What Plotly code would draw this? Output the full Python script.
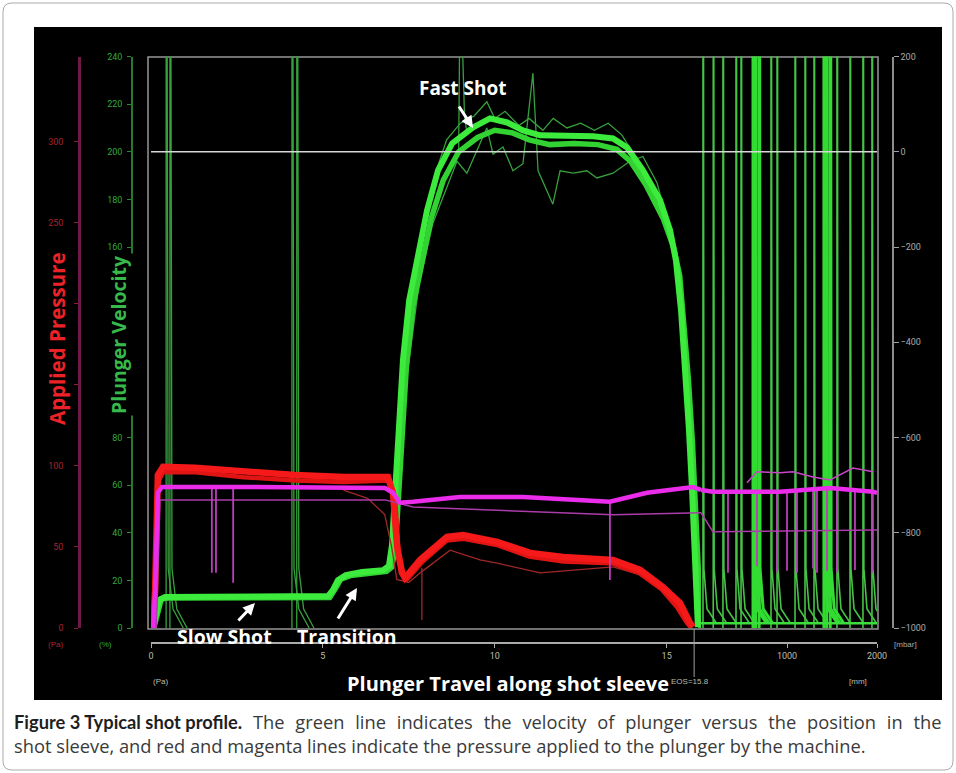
import plotly.graph_objects as go

W, H = 956, 773

# ------------------------------------------------------------------ data
# Plunger travel [mm] (left segment) -- velocity shots (velocity scale 0..240)
shotA_mm = [0.06, 0.15, 0.23, 0.41, 2.88, 5.15, 5.29, 5.44, 5.67, 6.14, 6.75, 6.92, 7.01, 7.07, 7.21,
            7.33, 7.51, 7.74, 8.03, 8.35, 8.76, 9.37, 9.86, 10.36, 10.82, 11.32, 12.10, 12.86, 13.44,
            13.85, 14.31, 14.81, 15.10, 15.27, 15.42, 15.53, 15.65, 15.74, 15.83, 15.91]
shotA_vel = [0, 6.7, 11.7, 13.0, 13.0, 13.4, 15.9, 20.1, 22.2, 23.5, 24.3, 26.0, 34.8, 49.5, 83.1,
             112.5, 137.6, 154.4, 175.4, 192.2, 203.5, 210.2, 214.0, 212.3, 209.0, 206.9, 206.9, 206.5,
             205.6, 201.8, 192.2, 179.6, 167.0, 154.4, 133.4, 112.5, 83.1, 57.9, 28.5, 0.4]

shotB_mm = [0.08, 0.2, 0.3, 0.5, 3.0, 5.2, 5.36, 5.52, 5.8, 6.3, 6.85, 7.0, 7.1, 7.17, 7.3, 7.43, 7.62,
            7.86, 8.15, 8.5, 8.95, 9.5, 10.0, 10.5, 11.0, 11.6, 12.3, 13.0, 13.55, 13.95, 14.4, 14.9,
            15.2, 15.38, 15.52, 15.63, 15.75, 15.85, 15.93, 16.0]
shotB_vel = [0, 7.5, 12.2, 12.6, 12.4, 12.8, 16.5, 20.5, 22.0, 23.0, 23.8, 25.5, 33.0, 48.0, 82.0, 110.0,
             135.0, 152.0, 172.0, 188.0, 200.0, 206.0, 209.0, 208.0, 205.0, 203.0, 203.5, 203.0, 201.0,
             196.0, 186.0, 172.0, 160.0, 148.0, 126.0, 105.0, 78.0, 52.0, 22.0, 0]

shotC_mm = [7.4, 7.8, 8.2, 8.61, 8.90, 9.19, 9.57, 9.77, 9.95, 10.24, 10.53, 10.82, 11.11, 11.26, 11.69,
            11.90, 12.28, 12.68, 12.97, 13.44, 13.93, 14.31, 14.72, 15.0, 15.3, 15.55, 15.8, 15.95]
shotC_vel = [100, 145, 170, 185, 196, 191, 203, 210, 199, 202, 192, 195, 233, 192, 178, 192, 191, 192,
             189, 191, 196, 198, 187, 172, 150, 100, 35, 0]

shotD_mm = [8.3, 8.6, 9.0, 9.4, 9.77, 10.0, 10.3, 10.7, 11.0, 11.4, 11.7, 12.1, 12.5, 12.9, 13.3, 13.7, 14.0]
shotD_vel = [192, 205, 212, 215, 221, 214, 217, 211, 214, 209, 214, 210, 212, 209, 212, 207, 200]

peak_spike_mm = [8.95, 8.98, 9.05, 9.12, 9.2]
peak_spike_vel = [200, 250, 250, 215, 207]

# velocity spikes in the travel segment [mm] and their tail profile
vel_spike_mm = [0.44, 0.55, 4.10, 4.24]
vel_tail_dmm = [0, 0, 0.03, 0.06, 0.2, 0.5]
vel_tail_vel = [0, 250, 250, 25, 8, 0]

# after end of stroke: time segment [ms]
bright_spike_ms = [622, 650, 690, 1410, 1440, 1480]
thin_spike_ms = [66, 180, 288, 433, 489, 822, 889, 1089, 1200, 1300, 1555, 1700, 1844, 1944]
ms_tail_dt = [0, 0, 6, 10, 45, 150]
ms_tail_vel = [0, 250, 250, 25, 8, 2]
baseline_ms = [44, 2000]
baseline_vel = [2, 2]

# Applied pressure (red, pressure scale)
red_main_mm = [0.06, 0.12, 0.20, 0.35, 1.28, 2.73, 4.19, 5.64, 6.89, 7.04, 7.16, 7.30, 7.39, 7.83, 8.61,
               9.08, 10.07, 11.03, 11.99, 13.44, 14.23, 14.89, 15.39, 15.68, 15.77]
red_main_p = [0, 23.5, 94.4, 99.4, 98.8, 96.3, 94.4, 93.2, 93.2, 83.3, 50.0, 34.0, 30.9, 42.0, 56.2,
              57.4, 53.1, 46.3, 43.8, 42.0, 35.8, 25.3, 15.4, 3.1, 0.6]
red_b_mm = [0.1, 0.2, 0.35, 1.3, 2.7, 4.2, 5.6, 6.9, 7.1, 7.2, 7.35, 7.45, 7.9, 8.6, 9.1, 10.1, 11.0,
            12.0, 13.4, 14.2, 14.85, 15.3, 15.6, 15.72]
red_b_p = [15, 90, 96, 96, 93, 91, 90, 91, 80, 47, 32, 30, 41, 54, 55, 51, 44, 41, 40, 34, 24, 13, 3, 0]
red_thin_mm = [5.6, 6.3, 6.8, 7.0, 7.15, 7.5, 7.83, 8.70, 9.57, 10.07, 11.32, 12.48, 13.44, 14.43, 15.19, 15.68]
red_thin_p = [85, 80, 70, 50, 30, 28, 34, 48, 42, 40, 34, 36, 37.7, 31.5, 17, 3]
red_spike_mm = [7.88, 7.88]
red_spike_p = [37, 5]

# magenta pressure trace (right axis, mbar)
mag_main_mm = [0.06, 0.12, 0.20, 0.32, 2.88, 6.81, 7.04, 7.24, 7.62, 8.99, 10.82, 12.48, 13.35, 14.43,
               15.39, 15.77, 16.0]
mag_main_mbar = [-1000, -920, -716, -704, -704, -706, -716, -737, -735, -725, -725, -731, -735, -716,
                 -706, -704, -710]
mag_main_ms = [44, 177, 922, 1478, 1956, 2000]
mag_main_ms_mbar = [-710, -714, -714, -706, -714, -716]
mag_low_mm = [0.15, 0.26, 6.81, 7.62, 13.44, 16.0]
mag_low_mbar = [-1000, -731, -731, -746, -762, -758]
mag_low_ms = [44, 177, 2000]
mag_low_ms_mbar = [-758, -798, -794]
mag_up_ms = [555, 666, 922, 1066, 1289, 1478, 1733, 1956]
mag_up_mbar = [-695, -672, -674, -672, -683, -689, -664, -672]
mag_spike_mm = [1.77, 1.89, 2.39, 13.35]
mag_spike_mm_top = [-704, -704, -704, -735]
mag_spike_mm_bot = [-884, -884, -905, -899]
mag_spike_ms = [344, 666, 889, 1000, 1111, 1289, 1333, 1444, 1555, 1755, 1944]
mag_spike_ms_top = [-714, -714, -714, -714, -714, -712, -712, -710, -708, -710, -714]
mag_spike_ms_bot = [-884, -870, -884, -880, -884, -875, -884, -880, -884, -878, -884]

zero_mm = [0, 16]
zero_ms = [44, 2000]
zero_mbar = [0, 0]

# tick labels
vel_ticks = [0, 20, 40, 60, 80, 100, 120, 140, 160, 180, 200, 220, 240]
p_ticks = [0, 50, 100, 150, 200, 250, 300]
mbar_ticks = [-1000, -800, -600, -400, -200, 0, 200]
mm_ticks = [0, 5, 10, 15]
ms_ticks = [1000, 2000]

# caption
caption_bold = "Figure 3 Typical shot profile."
caption_line1 = "The green line indicates the velocity of plunger versus the position in the"
caption_line2 = ("shot sleeve, and red and magenta lines indicate the pressure applied to the "
                 "plunger by the machine.")

# ------------------------------------------------------------------ figure
def X(p):
    return p / W


def Y(p):
    return 1 - p / H


GREEN = "rgb(60,235,60)"
GREEN_D = "rgb(55,160,60)"
RED = "rgb(245,25,25)"
MAG = "rgb(235,45,235)"

fig = go.Figure()


def add(x, y, xa, ya, color, width, opacity=1.0):
    fig.add_trace(go.Scatter(x=x, y=y, xaxis=xa, yaxis=ya, mode="lines",
                             line=dict(color=color, width=width), opacity=opacity,
                             hoverinfo="skip", showlegend=False))


# thin velocity spikes
for s in vel_spike_mm:
    add([s + d for d in vel_tail_dmm], vel_tail_vel, "x", "y", GREEN_D, 1.3)
for s in thin_spike_ms:
    add([s + d for d in ms_tail_dt], ms_tail_vel, "x2", "y", "rgb(70,195,70)", 1.6)
for s in bright_spike_ms:
    add([s + d for d in ms_tail_dt], ms_tail_vel, "x2", "y", "rgb(50,220,50)", 3)
add(baseline_ms, baseline_vel, "x2", "y", "rgb(60,220,60)", 2.5)

# white 0 mbar reference
add(zero_mm, zero_mbar, "x", "y3", "rgb(215,215,215)", 1.5)
add(zero_ms, zero_mbar, "x2", "y3", "rgb(215,215,215)", 1.5)

# magenta
add(mag_low_mm, mag_low_mbar, "x", "y3", "rgb(170,60,170)", 1.5)
add(mag_low_ms, mag_low_ms_mbar, "x2", "y3", "rgb(170,60,170)", 1.5)
sx, sy = [], []
for s, t, b in zip(mag_spike_mm, mag_spike_mm_top, mag_spike_mm_bot):
    sx += [s, s, None]
    sy += [t, b, None]
add(sx, sy, "x", "y3", "rgb(190,60,190)", 1.8)
sx, sy = [], []
for s, t, b in zip(mag_spike_ms, mag_spike_ms_top, mag_spike_ms_bot):
    sx += [s, s, None]
    sy += [t, b, None]
add(sx, sy, "x2", "y3", "rgb(190,60,190)", 1.8)
add(mag_up_ms, mag_up_mbar, "x2", "y3", "rgb(200,70,200)", 1.5)
add(mag_main_mm, mag_main_mbar, "x", "y3", MAG, 4.5)
add(mag_main_ms, mag_main_ms_mbar, "x2", "y3", MAG, 4.5)

# red
add(red_thin_mm, red_thin_p, "x", "y2", "rgb(160,40,40)", 1.3)
add(red_spike_mm, red_spike_p, "x", "y2", "rgb(160,40,40)", 1.3)
add(red_b_mm, red_b_p, "x", "y2", "rgb(225,20,20)", 4.5)
add(red_main_mm, red_main_p, "x", "y2", RED, 6.5)

# green velocity
add(shotC_mm, shotC_vel, "x", "y", GREEN_D, 1.3)
add(shotD_mm, shotD_vel, "x", "y", GREEN_D, 1.3)
add(peak_spike_mm, peak_spike_vel, "x", "y", GREEN_D, 1.3)
add(shotB_mm, shotB_vel, "x", "y", "rgb(50,210,50)", 5.5)
add(shotA_mm, shotA_vel, "x", "y", GREEN, 6)

dom_y = [Y(628), Y(56.5)]
tickfont = dict(family="Liberation Sans Narrow, Roboto, Arial, sans-serif", size=9)

fig.update_layout(
    width=W, height=H, autosize=False,
    margin=dict(l=0, r=0, t=0, b=0, pad=0),
    paper_bgcolor="white", plot_bgcolor="rgba(0,0,0,0)",
    template="none", showlegend=False,
    xaxis=dict(domain=[X(151), X(701)], range=[0, 16], anchor="free", position=Y(643),
               showgrid=False, zeroline=False, showline=True, linecolor="rgb(170,170,170)", linewidth=2,
               tickvals=mm_ticks, ticks="outside", ticklen=4, tickcolor="rgb(170,170,170)",
               tickfont=dict(tickfont, color="rgb(190,190,170)")),
    xaxis2=dict(domain=[X(701), X(877)], range=[44, 2000], anchor="free", position=Y(643),
                showgrid=False, zeroline=False, showline=True, linecolor="rgb(170,170,170)", linewidth=2,
                tickvals=ms_ticks, ticktext=[str(v) for v in ms_ticks], ticks="outside", ticklen=4,
                tickcolor="rgb(170,170,170)", tickfont=dict(tickfont, color="rgb(190,190,170)")),
    yaxis=dict(domain=dom_y, range=[0, 240], anchor="free", position=X(132), side="left",
               showgrid=False, zeroline=False, showline=True, linecolor="rgb(40,120,50)", linewidth=1.5,
               tickvals=vel_ticks, ticks="outside", ticklen=4, tickcolor="rgb(40,140,50)",
               ticklabelstandoff=3, tickfont=dict(tickfont, color="rgb(50,170,60)")),
    yaxis2=dict(domain=dom_y, range=[0, 352.5], anchor="free", position=X(79), side="left",
                overlaying="y", showgrid=False, zeroline=False, showline=True,
                linecolor="rgb(110,25,70)", linewidth=2.5, tickvals=p_ticks, ticks="outside", ticklen=4,
                tickcolor="rgb(140,30,60)", ticklabelstandoff=9,
                tickfont=dict(tickfont, color="rgb(170,35,45)")),
    yaxis3=dict(domain=dom_y, range=[-1000, 200], anchor="free", position=X(893), side="right",
                overlaying="y", showgrid=False, zeroline=False, showline=True,
                linecolor="rgb(140,140,140)", linewidth=1.5, tickvals=mbar_ticks, ticks="outside",
                ticklen=5, tickcolor="rgb(160,160,160)", tickfont=dict(tickfont, color="rgb(170,170,170)")),
)

r = 9
fx0, fy0, fx1, fy1 = 3, 3, 953, 770
frame_path = (f"M {X(fx0 + r)},{Y(fy0)} L {X(fx1 - r)},{Y(fy0)} Q {X(fx1)},{Y(fy0)} {X(fx1)},{Y(fy0 + r)} "
              f"L {X(fx1)},{Y(fy1 - r)} Q {X(fx1)},{Y(fy1)} {X(fx1 - r)},{Y(fy1)} "
              f"L {X(fx0 + r)},{Y(fy1)} Q {X(fx0)},{Y(fy1)} {X(fx0)},{Y(fy1 - r)} "
              f"L {X(fx0)},{Y(fy0 + r)} Q {X(fx0)},{Y(fy0)} {X(fx0 + r)},{Y(fy0)} Z")

fig.update_layout(shapes=[
    dict(type="path", path=frame_path, xref="paper", yref="paper",
         line=dict(color="rgb(170,170,170)", width=1), layer="below"),
    dict(type="rect", xref="paper", yref="paper", x0=X(34), x1=X(942), y0=Y(700), y1=Y(27),
         fillcolor="black", line=dict(width=0), layer="below"),
    dict(type="rect", xref="paper", yref="paper", x0=X(148), x1=X(878), y0=Y(629), y1=Y(57),
         line=dict(color="rgb(150,150,150)", width=1.5), layer="below"),
    dict(type="line", xref="x", yref="paper", x0=15.8, x1=15.8, y0=Y(629), y1=Y(677),
         line=dict(color="rgb(160,160,150)", width=1)),
])

ann = []


def text(s, x, y, size, color="white", angle=0, bg=None, family="Open Sans, sans-serif", xanchor="center"):
    d = dict(text=s, x=X(x), y=Y(y), xref="paper", yref="paper", showarrow=False,
             font=dict(family=family, size=size, color=color), textangle=angle,
             xanchor=xanchor, yanchor="middle")
    if bg:
        d["bgcolor"] = bg
    ann.append(d)


def arrow(tx, ty, hx, hy):
    ann.append(dict(text="", x=X(hx), y=Y(hy), xref="paper", yref="paper", showarrow=True,
                    ax=tx - hx, ay=ty - hy, arrowhead=2, arrowsize=0.8, arrowwidth=3,
                    arrowcolor="white", standoff=0, startstandoff=0))


text("<b>Fast Shot</b>", 463, 88, 19)
arrow(458, 105, 473, 128)
text("<b>Slow Shot</b>", 224, 636, 19.5)
arrow(237, 622, 255, 603)
text("<b>Transition</b>", 347, 636, 19.5)
arrow(337, 620, 357, 588)
text("<b>Plunger Travel along shot sleeve</b>", 508, 683, 20)
text("<b>Applied Pressure</b>", 57, 339, 20.5, color="rgb(235,35,40)", angle=-90, bg="black")
text("<b>Plunger Velocity</b>", 118, 335, 19.5, color="rgb(55,185,75)", angle=-90, bg="black")
text("(Pa)", 55, 644, 8, color="rgb(170,35,45)", family="Liberation Sans Narrow, Arial")
text("(%)", 105, 644, 8, color="rgb(50,170,60)", family="Liberation Sans Narrow, Arial")
text("[mbar]", 905, 644, 8, color="rgb(170,170,170)", family="Liberation Sans Narrow, Arial")
text("(Pa)", 160, 681, 8, color="rgb(190,190,170)", family="Liberation Sans Narrow, Arial")
text("EOS=15.8", 690, 681, 8, color="rgb(190,190,170)", family="Liberation Sans Narrow, Arial")
text("[mm]", 858, 681, 8, color="rgb(190,190,170)", family="Liberation Sans Narrow, Arial")

# justified first caption line: widen the inter-word gaps
gap = " \u2009\u2009"
line1 = (f"<span style='font-family:Lato'><b><span style='color:#1e1e1e'>{caption_bold}</span></b></span>"
         + gap + gap.join(caption_line1.split(" ")))
ann.append(dict(text=line1 + "<br>" + caption_line2, x=X(12), y=Y(733), xref="paper", yref="paper",
                showarrow=False, xanchor="left", yanchor="middle", align="left",
                font=dict(family="Open Sans, sans-serif", size=18.3, color="#3a3a3a")))

fig.update_layout(annotations=ann)
fig.write_html("out.html")
